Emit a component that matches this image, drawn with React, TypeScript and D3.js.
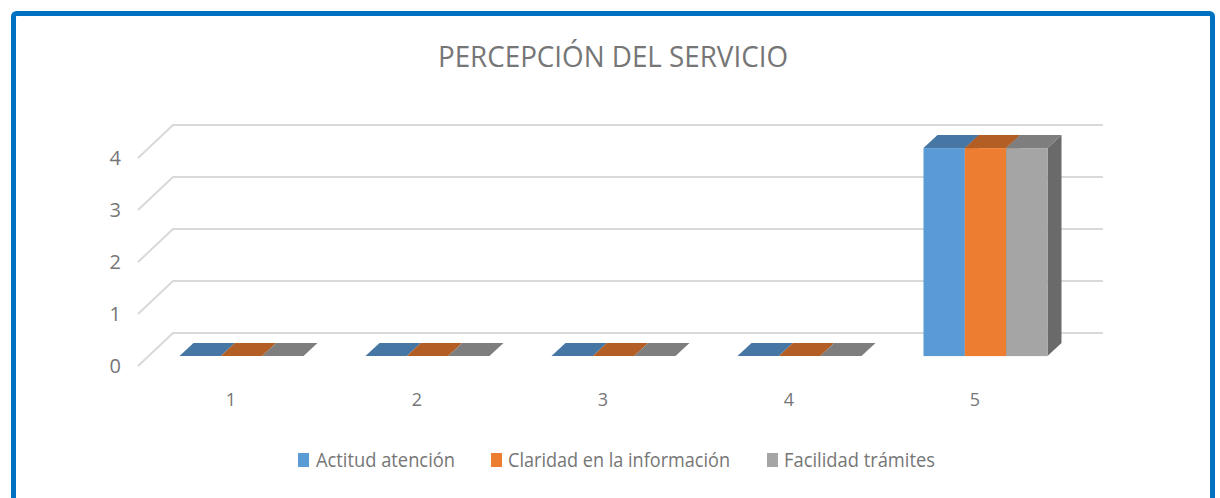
import * as React from 'react';
import * as d3 from 'd3';

const categories = ['1', '2', '3', '4', '5'];
const seriesNames = ['Actitud atención', 'Claridad en la información', 'Facilidad trámites'];
const actitudAtencion = [0, 0, 0, 0, 4];
const claridadInformacion = [0, 0, 0, 0, 4];
const facilidadTramites = [0, 0, 0, 0, 4];
const yTicks = [0, 1, 2, 3, 4];

const seriesValues = [actitudAtencion, claridadInformacion, facilidadTramites];

const dimensions = { width: 1220, height: 498 };

// colours: front, top, side
const colors = [
  { front: '#5B9BD5', top: '#4676A3', side: '#3F6B94' },
  { front: '#ED7D31', top: '#B35E25', side: '#A35522' },
  { front: '#A5A5A5', top: '#7E7E7E', side: '#6A6A6A' },
];

// depth of the 3d box (wall) and the slab the bars live in
const depth = { dx: 35, dy: -33 };
const barZ = [0.3, 0.7];

const textColor = '#767676';
const fontFamily = '"Open Sans", "Noto Sans", sans-serif';

// legend layout: [square x, text x, text width]
const legendLayout = [
  [298, 316, 139],
  [491, 508, 222],
  [767, 784, 151],
];

const App: React.FC = () => {
  const x = d3
    .scaleBand(categories, [138, 1068])
    .paddingInner(1 / 3)
    .paddingOuter(1 / 6);
  const xs = d3.scaleBand(d3.range(seriesNames.length), [0, x.bandwidth()]);
  const y = d3.scaleLinear([0, 4], [366, 158]);

  const px = (bx: number, z: number) => bx + z * depth.dx;
  const py = (by: number, z: number) => by + z * depth.dy;

  const poly = (pts: [number, number][]) => pts.map((p) => p.join(',')).join(' ');

  const bars: React.ReactNode[] = [];
  categories.forEach((c, ci) => {
    seriesValues.forEach((vals, si) => {
      const v = vals[ci];
      const x0 = (x(c) ?? 0) + (xs(si) ?? 0);
      const x1 = x0 + xs.bandwidth();
      const yt = y(v);
      const yb = y(0);
      const [z0, z1] = barZ;
      const col = colors[si];
      const key = `${c}-${si}`;
      if (v > 0) {
        bars.push(
          <g key={key}>
            <polygon
              points={poly([
                [px(x1, z0), py(yt, z0)],
                [px(x1, z1), py(yt, z1)],
                [px(x1, z1), py(yb, z1)],
                [px(x1, z0), py(yb, z0)],
              ])}
              fill={col.side}
            />
            <polygon
              points={poly([
                [px(x0, z0), py(yt, z0)],
                [px(x1, z0), py(yt, z0)],
                [px(x1, z1), py(yt, z1)],
                [px(x0, z1), py(yt, z1)],
              ])}
              fill={col.top}
            />
            <rect
              x={px(x0, z0)}
              y={py(yt, z0)}
              width={x1 - x0}
              height={yb - yt}
              fill={col.front}
            />
          </g>
        );
      } else {
        bars.push(
          <polygon
            key={key}
            points={poly([
              [px(x0, z0), py(yt, z0)],
              [px(x1, z0), py(yt, z0)],
              [px(x1, z1), py(yt, z1)],
              [px(x0, z1), py(yt, z1)],
            ])}
            fill={col.top}
          />
        );
      }
    });
  });

  const [rx0, rx1] = x.range();

  return (
    <svg
      width={dimensions.width}
      height={dimensions.height}
      viewBox={`0 0 ${dimensions.width} ${dimensions.height}`}
      style={{ position: 'fixed', left: 0, top: 0, background: '#fff' }}
    >
      <rect x={0} y={0} width={dimensions.width} height={dimensions.height} fill="#fff" />
      <rect
        x={13.5}
        y={13.5}
        width={1199}
        height={620}
        rx={3}
        fill="none"
        stroke="#0070C0"
        strokeWidth={5}
      />

      <text
        x={438}
        y={67}
        fontFamily={fontFamily}
        fontSize={30}
        fill={textColor}
        textLength={350}
        lengthAdjust="spacingAndGlyphs"
      >
        PERCEPCIÓN DEL SERVICIO
      </text>

      <g>
        {yTicks.map((t) => (
          <polyline
            key={t}
            points={poly([
              [rx0, y(t)],
              [px(rx0, 1), py(y(t), 1)],
              [px(rx1, 1), py(y(t), 1)],
            ])}
            fill="none"
            stroke="#D9D9D9"
            strokeWidth={2}
          />
        ))}
      </g>

      <g fontFamily={fontFamily} fontSize={20} fill={textColor}>
        {yTicks.map((t) => (
          <text key={t} x={121} y={y(t) + 7} textAnchor="end">
            {t}
          </text>
        ))}
      </g>

      <g>{bars}</g>

      <g fontFamily={fontFamily} fontSize={18} fill={textColor}>
        {categories.map((c) => (
          <text key={c} x={(x(c) ?? 0) + x.bandwidth() / 2} y={406} textAnchor="middle">
            {c}
          </text>
        ))}
      </g>

      <g fontFamily={fontFamily} fontSize={20} fill={textColor}>
        {seriesNames.map((name, i) => {
          const [sx, tx, tw] = legendLayout[i];
          return (
            <g key={name}>
              <rect x={sx} y={453} width={11} height={14} fill={colors[i].front} />
              <text x={tx} y={467} textLength={tw} lengthAdjust="spacingAndGlyphs">
                {name}
              </text>
            </g>
          );
        })}
      </g>
    </svg>
  );
};

export default App;
